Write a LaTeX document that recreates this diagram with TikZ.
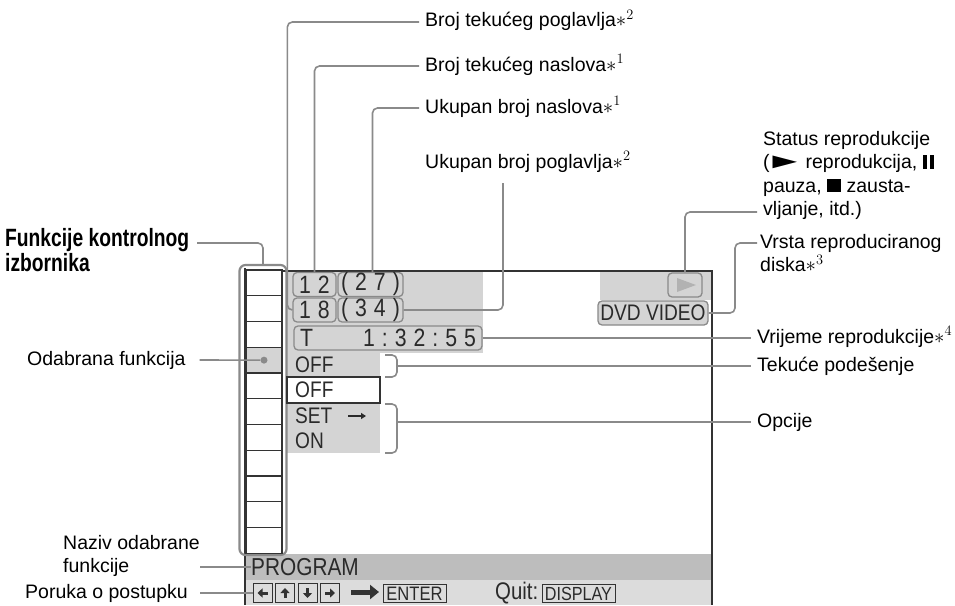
\documentclass[tikz,border=0pt]{standalone}
\usepackage{fontspec}
\setmainfont{Liberation Sans}
\newfontfamily\condfont[FakeStretch=0.77]{Liberation Sans}
\newfontfamily\scrfont[FakeStretch=0.85]{Liberation Sans}
\usetikzlibrary{arrows.meta}

\definecolor{scrgray}{HTML}{D4D4D4}
\definecolor{bargray}{HTML}{BDBDBD}
\definecolor{lowgray}{HTML}{DCDCDC}
\definecolor{linegray}{HTML}{8A8A8A}
\definecolor{framedark}{HTML}{333333}
\definecolor{scrtext}{HTML}{2A2A2A}

\newcommand{\lblsize}{\fontsize{19.5}{23.5}\selectfont}
\newcommand{\scrsize}{\scrfont\fontsize{22.5}{26}\selectfont}
\newcommand{\numsize}{\scrfont\fontsize{25}{26}\selectfont}
\newcommand{\starnote}[1]{$\ast^{#1}$}
\newcommand{\pausesym}{\rule{4pt}{13.5pt}\hspace{3pt}\rule{4pt}{13.5pt}}
\newcommand{\playsym}{\kern-5pt\scalebox{2.1}[1.1]{►}\kern-5pt}
\newcommand{\stopsym}{\rule{14pt}{13pt}}

\begin{document}
\begin{tikzpicture}[x=1pt,y=-1pt,>=Stealth]
  \tikzset{
    lbl/.style={anchor=west, inner ysep=0pt, inner xsep=6pt, font=\lblsize, text height=14pt, text depth=4pt},
    lblm/.style={anchor=north west, inner sep=0pt, font=\lblsize, align=left},
    conn/.style={draw=linegray, line width=1.6pt, rounded corners=5pt},
    numbox/.style={draw=linegray, line width=1.3pt, fill=scrgray, rounded corners=4pt, inner sep=0pt,
                   font=\numsize, text=scrtext, minimum height=24pt},
    scrtxt/.style={anchor=west, inner sep=0pt, font=\scrsize, text=scrtext},
    menucell/.style={draw=framedark, line width=1.3pt, minimum width=36pt, minimum height=25.75pt, inner sep=0pt},
    keybox/.style={draw=framedark, line width=1pt, inner sep=0pt, text=scrtext}
  }
  \useasboundingbox (0,0) rectangle (955,605);
  \fill[white] (0,0) rectangle (955,605);

  % screen
  \fill[scrgray] (287,272) rectangle (483,353);
  \fill[scrgray] (600,272) rectangle (711,300);
  \fill[scrgray] (287,353) rectangle (380,377);
  \fill[scrgray] (287,403) rectangle (380,453);
  \fill[bargray] (245,554) rectangle (711,580);
  \fill[lowgray] (245,580) rectangle (711,605);
  \draw[framedark, line width=2pt] (245,268) -- (245,605);
  \draw[framedark, line width=2pt] (283,271) -- (712,271) -- (712,605);

  % control menu column
  \node[draw=linegray, line width=2.2pt, rounded corners=6pt, minimum width=47pt, minimum height=290pt,
        inner sep=0pt] (panel) at (263,410) {};
  \fill[scrgray] (246,347.25) rectangle (282,373);
  \foreach \i in {0,...,10}
    \node[menucell] (cell\i) at (264,{282.9+\i*25.75}) {};
  \node[circle, fill=linegray, inner sep=0pt, minimum size=7pt] (seldot) at (cell3.center) {};

  \node[numbox, minimum width=43pt] (n12) at (314.5,284.5) {1\hspace{7pt}2};
  \node[numbox, minimum width=65pt] (n27) at (370.5,284.5) {(\hspace{7pt}2\hspace{7pt}7\hspace{7pt})};
  \node[numbox, minimum width=43pt] (n18) at (314.5,310) {1\hspace{7pt}8};
  \node[numbox, minimum width=65pt] (n34) at (370.5,310) {(\hspace{7pt}3\hspace{7pt}4\hspace{7pt})};
  \node[numbox, minimum width=188pt] (tbox) at (388,338)
    {\makebox[176pt]{T\hfill 1\hspace{7pt}:\hspace{7pt}3\hspace{7pt}2\hspace{7pt}:\hspace{7pt}5\hspace{7pt}5}};
  \node[numbox, minimum width=34pt] (playbox) at (685,285) {};
  \fill[black!30] (677,278) -- (696,285) -- (677,292) -- cycle;
  \node[numbox, minimum width=110pt, font=\scrsize] (dvd) at (653,313) {DVD VIDEO};

  \node[scrtxt] (opt1) at (295,365) {OFF};
  \node[draw=framedark, line width=1.3pt, fill=white, minimum width=93pt, minimum height=26pt,
        inner sep=0pt] (optbox) at (333.5,390) {};
  \node[scrtxt] (opt2) at (295,390) {OFF};
  \node[scrtxt] (opt3) at (295,416) {SET};
  \draw[scrtext, line width=1.3pt, -{Triangle[length=5pt,width=6pt]}] (348,416) -- (366,416);
  \node[scrtxt] (opt4) at (295,441) {ON};
  \draw[conn] (385,355) -- (397,355) -- (397,377) -- (385,377);
  \draw[conn] (385,404) -- (397,404) -- (397,453) -- (385,453);
  \coordinate (brk1) at (397,366);
  \coordinate (brk2) at (397,422);

  \node[scrtxt, font=\scrfont\fontsize{24.5}{26}\selectfont] (program) at (251,567) {PROGRAM};
  \foreach \k/\ang in {0/180,1/270,2/90,3/0}{
    \node[keybox, minimum width=19pt, minimum height=19pt] (nav\k) at ({262.5+\k*22.5},593) {};
    \draw[framedark, line width=3pt, -{Triangle[length=5pt,width=9pt]}]
      (nav\k.center) ++({\ang+180}:5) -- ++(\ang:10);
  }
  \draw[framedark, line width=5pt, -{Triangle[length=9pt,width=14pt]}] (351,592) -- (379,592);
  \node[keybox, minimum width=63pt, minimum height=18pt, font=\scrfont\fontsize{19.5}{20}\selectfont] (enter)
    at (414.5,593.5) {ENTER};
  \node[scrtxt, font=\scrfont\fontsize{24}{26}\selectfont] (quit) at (495,593) {Quit:};
  \node[keybox, minimum width=73pt, minimum height=18pt, font=\scrfont\fontsize{19}{20}\selectfont] (display)
    at (578.5,593.5) {DISPLAY};

  % labels
  \node[lbl] (poglcur) at (419,22) {Broj tekućeg poglavlja\starnote{2}};
  \node[lbl] (naslcur) at (419,66) {Broj tekućeg naslova\starnote{1}};
  \node[lbl] (naslsum) at (419,108) {Ukupan broj naslova\starnote{1}};
  \node[lbl] (poglsum) at (419,163) {Ukupan broj poglavlja\starnote{2}};
  \node[lblm] (status) at (763,131)
    {Status reprodukcije\\(\playsym\ reprodukcija, \pausesym\\pauza, \stopsym\ zausta-\\vljanje, itd.)};
  \node[lblm] (vrsta) at (760,234) {Vrsta reproduciranog\\diska\starnote{3}};
  \node[lbl] (vrijeme) at (751,338) {Vrijeme reprodukcije\starnote{4}};
  \node[lbl] (tekuce) at (751,366) {Tekuće podešenje};
  \node[lbl] (opcije) at (751,422) {Opcije};

  \node[lblm, font=\condfont\bfseries\fontsize{25}{25}\selectfont] (funk) at (5,228) {Funkcije kontrolnog\\izbornika};
  \node[lbl] (odabr) at (21,360) {Odabrana funkcija};
  \node[lblm] (naziv) at (63,535) {Naziv odabrane\\funkcije};
  \node[lbl] (poruka) at (19,593) {Poruka o postupku};

  % connectors
  \coordinate (poglsumfoot) at (503,183);
  \coordinate (statusend) at (757,212);
  \coordinate (vrstaend) at (757,243);
  \coordinate (funkend) at (197,243);
  \coordinate (nazivend) at (200,567);
  \coordinate (porukaend) at (200,593);

  \draw[conn] (poglcur.west) -| ([xshift=-5pt]n18.west) -- (n18.west);
  \draw[conn] (naslcur.west) -| (n12.north);
  \draw[conn] (naslsum.west) -| ([xshift=2pt]n27.north);
  \draw[conn] (poglsumfoot) |- (n34.east);
  \draw[conn] (statusend) -| (playbox.north);
  \draw[conn] (vrstaend) -- ++(-22,0) |- (dvd.east);
  \draw[conn] (tbox.east) -- (tbox.east -| vrijeme.west);
  \draw[conn] (brk1) -- (brk1 -| tekuce.west);
  \draw[conn] (brk2) -- (brk2 -| opcije.west);
  \draw[conn] (funkend) -| (panel.north);
  \draw[conn] ([xshift=8pt]odabr.east) -- (seldot);
  \draw[conn] (nazivend) -- (nazivend -| program.west);
  \draw[conn] (porukaend) -- (nav0.west);
\end{tikzpicture}
\end{document}
